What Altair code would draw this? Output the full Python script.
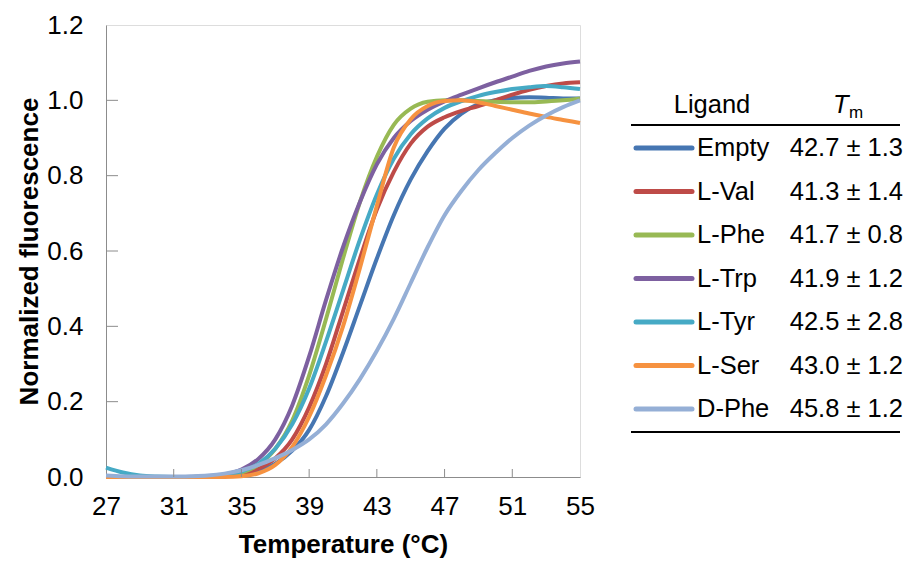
import altair as alt
import pandas as pd

temps = list(range(27, 56))
ligands = ["Empty", "L-Val", "L-Phe", "L-Trp", "L-Tyr", "L-Ser", "D-Phe"]
tm_labels = ["42.7 ± 1.3", "41.3 ± 1.4", "41.7 ± 0.8", "41.9 ± 1.2",
             "42.5 ± 2.8", "43.0 ± 1.2", "45.8 ± 1.2"]
colors = ["#4676B2", "#BE4B48", "#98B954", "#7D60A0", "#46AAC5", "#F69240", "#95AFD6"]

empty = [0, 0, 0, 0, 0, 0, 0, 0.002, 0.006, 0.016, 0.035, 0.07, 0.125, 0.215, 0.33,
         0.455, 0.58, 0.695, 0.79, 0.865, 0.925, 0.965, 0.99, 1.0, 1.006, 1.008, 1.007,
         1.005, 1.005]
l_val = [0, 0, 0, 0, 0, 0, 0, 0.002, 0.008, 0.022, 0.05, 0.1, 0.185, 0.3, 0.44, 0.58,
         0.71, 0.81, 0.885, 0.93, 0.955, 0.972, 0.985, 1.0, 1.015, 1.028, 1.038, 1.045,
         1.048]
l_phe = [0, 0, 0, 0, 0, 0, 0.001, 0.004, 0.012, 0.032, 0.075, 0.15, 0.27, 0.42, 0.58,
         0.73, 0.85, 0.935, 0.978, 0.996, 1.0, 1.0, 0.998, 0.996, 0.995, 0.995, 0.997,
         1.0, 1.005]
l_trp = [0, 0, 0, 0, 0, 0, 0.002, 0.007, 0.02, 0.048, 0.1, 0.19, 0.32, 0.47, 0.61,
         0.73, 0.83, 0.9, 0.945, 0.975, 0.997, 1.015, 1.032, 1.048, 1.063, 1.078, 1.09,
         1.098, 1.103]
l_tyr = [0.025, 0.012, 0.004, 0.001, 0, 0, 0.001, 0.005, 0.015, 0.035, 0.075, 0.14,
         0.235, 0.36, 0.495, 0.63, 0.75, 0.845, 0.91, 0.952, 0.98, 0.998, 1.012, 1.022,
         1.03, 1.035, 1.038, 1.035, 1.03]
l_ser = [0, 0, 0, 0, 0, 0, 0, 0, 0.002, 0.01, 0.032, 0.08, 0.16, 0.27, 0.4, 0.555,
         0.72, 0.875, 0.95, 0.985, 0.998, 1.0, 0.995, 0.985, 0.975, 0.965, 0.956, 0.948,
         0.94]
d_phe = [0.004, 0.002, 0.001, 0.001, 0.001, 0.002, 0.004, 0.009, 0.018, 0.032, 0.05,
         0.072, 0.1, 0.14, 0.195, 0.26, 0.335, 0.42, 0.515, 0.61, 0.695, 0.76, 0.815,
         0.86, 0.9, 0.933, 0.96, 0.982, 1.0]

series = {"Empty": empty, "L-Val": l_val, "L-Phe": l_phe, "L-Trp": l_trp,
          "L-Tyr": l_tyr, "L-Ser": l_ser, "D-Phe": d_phe}

y_ticks = [0, 0.2, 0.4, 0.6, 0.8, 1.0, 1.2]
x_ticks = [27, 31, 35, 39, 43, 47, 51, 55]
y_inner_ticks = [0.2, 0.4, 0.6, 0.8, 1.0]
x_inner_ticks = [31, 35, 39, 43, 47, 51]

FONT = "Liberation Sans"

rows = []
for lig in ligands:
    for t, v in zip(temps, series[lig]):
        rows.append({"ligand": lig, "temp": t, "value": v})
df = pd.DataFrame(rows)

xscale = alt.Scale(domain=[27, 55], nice=False, zero=False)
yscale = alt.Scale(domain=[0, 1.2], nice=False, zero=False)

xaxis = alt.Axis(values=x_ticks, title="Temperature (°C)", labelFontSize=26,
                 titleFontSize=26, titleFontWeight="bold", labelFont=FONT,
                 titleFont=FONT, ticks=False, tickSize=0, labelPadding=16,
                 titlePadding=12, labelFlush=False, labelOverlap=False, grid=False,
                 domainColor="#8C8C8C", labelColor="black", titleColor="black")
yaxis = alt.Axis(values=y_ticks, format=".1f", title="Normalized fluorescence",
                 labelFontSize=26, titleFontSize=26, titleFontWeight="bold",
                 labelFont=FONT, titleFont=FONT, ticks=False, tickSize=0,
                 labelPadding=23, titlePadding=4, labelFlush=False,
                 labelOverlap=False, grid=False, domainColor="#8C8C8C",
                 labelColor="black", titleColor="black")

main_layers = []
for i, lig in enumerate(ligands):
    main_layers.append(
        alt.Chart(df[df.ligand == lig]).mark_line(
            strokeWidth=4, interpolate="monotone", color=colors[i]
        ).encode(
            x=alt.X("temp:Q", scale=xscale, axis=xaxis),
            y=alt.Y("value:Q", scale=yscale, axis=yaxis),
        )
    )

ytick_layer = alt.Chart(pd.DataFrame({"value": y_inner_ticks})).mark_rule(
    color="#8C8C8C", strokeWidth=1
).encode(y=alt.Y("value:Q", scale=yscale, axis=yaxis), x=alt.value(0), x2=alt.value(12))

xtick_layer = alt.Chart(pd.DataFrame({"temp": x_inner_ticks})).mark_rule(
    color="#8C8C8C", strokeWidth=1
).encode(x=alt.X("temp:Q", scale=xscale, axis=xaxis), y=alt.value(444), y2=alt.value(452))

main = alt.layer(*main_layers, ytick_layer, xtick_layer)

# legend table
leg_df = pd.DataFrame({"ligand": ligands, "tm": tm_labels, "row": list(range(len(ligands)))})
legscale = alt.Scale(domain=[0, 6], range=[123, 384], nice=False, zero=False)
legcolor = alt.Color("ligand:N", scale=alt.Scale(domain=ligands, range=colors), legend=None)
ly = alt.Y("row:Q", scale=legscale, axis=None)

leg_lines = alt.Chart(leg_df).mark_rule(strokeWidth=5, strokeCap="round").encode(
    y=ly, x=alt.value(530), x2=alt.value(586), color=legcolor)
leg_names = alt.Chart(leg_df).mark_text(
    align="left", baseline="middle", fontSize=25.5, font=FONT, color="black"
).encode(y=ly, x=alt.value(591), text="ligand:N")
leg_tm = alt.Chart(leg_df).mark_text(
    align="right", baseline="middle", fontSize=25.5, font=FONT, color="black"
).encode(y=ly, x=alt.value(797), text="tm:N")

head_df = pd.DataFrame({"row": [-1], "lig": ["Ligand"], "T": ["T"], "m": ["m"]})
head_lig = alt.Chart(head_df).mark_text(
    align="center", baseline="middle", fontSize=25.5, font=FONT, color="black"
).encode(y=ly, x=alt.value(606), text="lig:N")
head_T = alt.Chart(head_df).mark_text(
    align="left", baseline="middle", fontSize=25.5, font=FONT, fontStyle="italic", color="black"
).encode(y=ly, x=alt.value(727), text="T:N")
head_m = alt.Chart(head_df).mark_text(
    align="left", baseline="middle", fontSize=17, font=FONT, color="black", dy=8
).encode(y=ly, x=alt.value(743), text="m:N")

rule_df = pd.DataFrame({"row": [-0.53, 6.53]})
leg_rules = alt.Chart(rule_df).mark_rule(color="black", strokeWidth=2).encode(
    y=ly, x=alt.value(525), x2=alt.value(794))

legend = alt.layer(leg_rules, leg_lines, leg_names, leg_tm, head_lig, head_T, head_m)

chart = alt.layer(main, legend).resolve_scale(
    y="independent", color="independent"
).properties(
    width=474, height=452,
    padding={"left": 106, "top": 25, "right": 327, "bottom": 84},
    autosize=alt.AutoSizeParams(type="none"),
).configure_view(stroke="#A6A6A6", strokeWidth=1.5).configure(background="white")

chart.save("out.html", embed_options={"renderer": "svg", "actions": False})
